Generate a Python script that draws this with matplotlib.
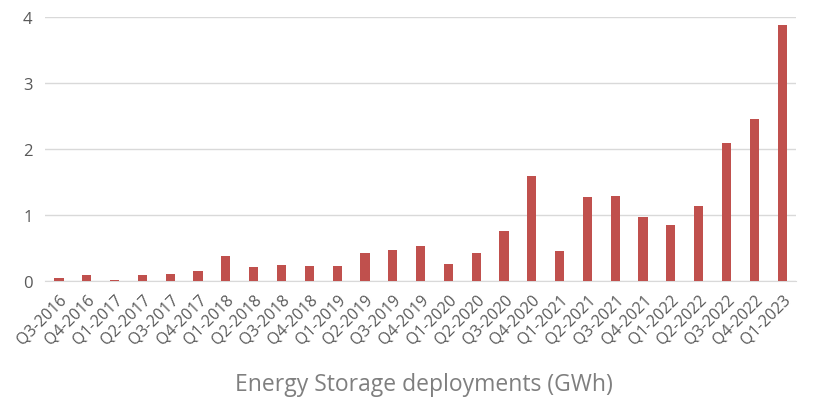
import matplotlib
matplotlib.use('Agg')
import matplotlib.pyplot as plt

# Quartale und Werte (GWh)
quartale = ['Q3-2016', 'Q4-2016', 'Q1-2017', 'Q2-2017', 'Q3-2017', 'Q4-2017',
            'Q1-2018', 'Q2-2018', 'Q3-2018', 'Q4-2018', 'Q1-2019', 'Q2-2019',
            'Q3-2019', 'Q4-2019', 'Q1-2020', 'Q2-2020', 'Q3-2020', 'Q4-2020',
            'Q1-2021', 'Q2-2021', 'Q3-2021', 'Q4-2021', 'Q1-2022', 'Q2-2022',
            'Q3-2022', 'Q4-2022', 'Q1-2023']
gwh = [0.05, 0.10, 0.015, 0.10, 0.11, 0.15,
       0.38, 0.21, 0.25, 0.23, 0.23, 0.42,
       0.48, 0.53, 0.26, 0.42, 0.76, 1.59,
       0.45, 1.27, 1.29, 0.97, 0.85, 1.14,
       2.10, 2.46, 3.89]
y_ticks = [0, 1, 2, 3, 4]

plt.rcParams['font.family'] = ['Open Sans', 'DejaVu Sans']

fig = plt.figure(figsize=(8.19, 4.06), dpi=100)
ax = fig.add_axes([0.055, 0.305, 0.917, 0.65])

x = range(len(quartale))
ax.bar(x, gwh, width=0.33, color='#C0504D', zorder=3)

ax.set_xlim(-0.5, len(quartale) - 0.5)
ax.set_ylim(0, 4)
ax.set_yticks(y_ticks)
ax.set_yticklabels([str(t) for t in y_ticks], fontsize=12, color='#595959')
ax.set_xticks(list(x))
ax.set_xticklabels(quartale, rotation=45, ha='right', rotation_mode='anchor',
                   fontsize=11.5, color='#595959')
ax.tick_params(axis='both', length=0)
ax.tick_params(axis='y', pad=9)
ax.tick_params(axis='x', pad=7)

ax.grid(axis='y', color='#D9D9D9', linewidth=1, zorder=0)
for s in ['top', 'right', 'left']:
    ax.spines[s].set_visible(False)
ax.spines['bottom'].set_color('#D9D9D9')

fig.text(0.518, 0.052, 'Energy Storage deployments (GWh)', ha='center', va='center',
         fontsize=16.5, color='#7F7F7F')

fig.savefig('out.png', dpi=100)
